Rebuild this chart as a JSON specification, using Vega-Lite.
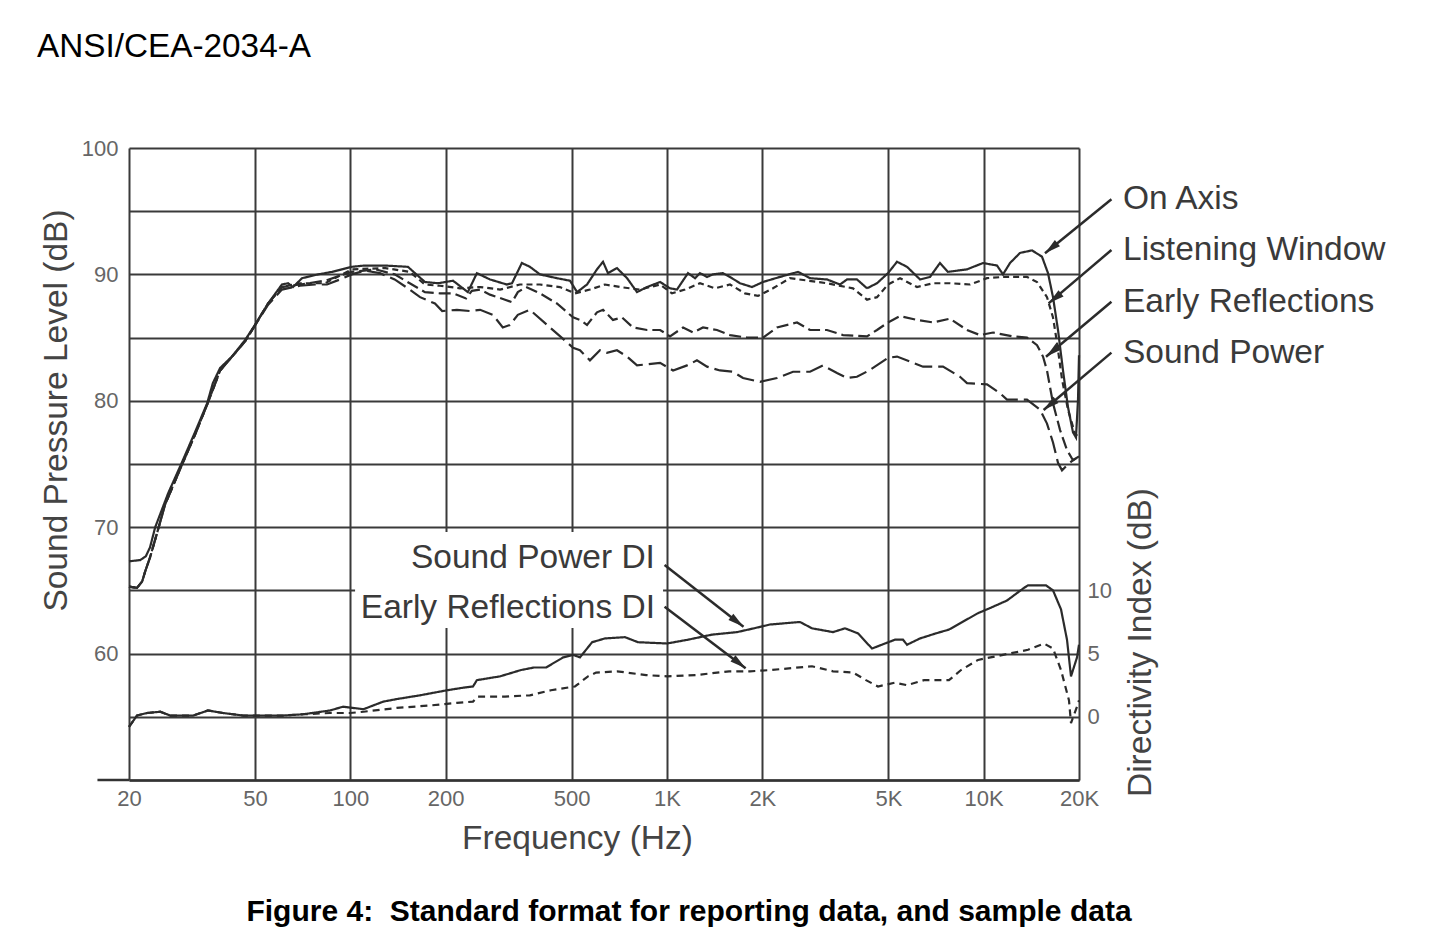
{
  "$schema": "https://vega.github.io/schema/vega-lite/v6.json",
  "width": 950,
  "height": 632,
  "autosize": {"type": "none"},
  "padding": {"left": 129, "top": 148, "right": 375, "bottom": 160},
  "background": "white",
  "config": {"view": {"stroke": null}, "font": "Liberation Sans"},
  "title": {
    "text": "Figure 4:\u00a0 Standard format for reporting data, and sample data",
    "orient": "bottom",
    "anchor": "middle",
    "frame": "group",
    "dx": 85,
    "offset": 42,
    "font": "Liberation Sans",
    "fontSize": 30,
    "fontWeight": "bold",
    "color": "#000000"
  },
  "datasets": {
    "spl": [
      {"series":"On Axis","freq":20,"spl":67.3},{"series":"On Axis","freq":21.7,"spl":67.4},{"series":"On Axis","freq":22.6,"spl":67.7},{"series":"On Axis","freq":23.3,"spl":68.4},{"series":"On Axis","freq":24.2,"spl":70.0},{"series":"On Axis","freq":26.6,"spl":72.7},{"series":"On Axis","freq":29.0,"spl":74.8},{"series":"On Axis","freq":32.3,"spl":77.5},{"series":"On Axis","freq":35.3,"spl":79.8},{"series":"On Axis","freq":36.8,"spl":81.4},{"series":"On Axis","freq":38.8,"spl":82.6},{"series":"On Axis","freq":42.3,"spl":83.5},{"series":"On Axis","freq":46.5,"spl":84.8},{"series":"On Axis","freq":50.0,"spl":86.0},{"series":"On Axis","freq":55.0,"spl":87.7},{"series":"On Axis","freq":60.8,"spl":89.2},{"series":"On Axis","freq":63.6,"spl":89.3},{"series":"On Axis","freq":65.9,"spl":89.0},{"series":"On Axis","freq":70.4,"spl":89.7},{"series":"On Axis","freq":79.1,"spl":90.0},{"series":"On Axis","freq":87.5,"spl":90.2},{"series":"On Axis","freq":101,"spl":90.6},{"series":"On Axis","freq":111,"spl":90.7},{"series":"On Axis","freq":129,"spl":90.7},{"series":"On Axis","freq":152,"spl":90.6},{"series":"On Axis","freq":160,"spl":90.1},{"series":"On Axis","freq":172,"spl":89.4},{"series":"On Axis","freq":189,"spl":89.3},{"series":"On Axis","freq":211,"spl":89.5},{"series":"On Axis","freq":235,"spl":88.6},{"series":"On Axis","freq":251,"spl":90.1},{"series":"On Axis","freq":276,"spl":89.6},{"series":"On Axis","freq":312,"spl":89.2},{"series":"On Axis","freq":324,"spl":89.3},{"series":"On Axis","freq":348,"spl":90.9},{"series":"On Axis","freq":369,"spl":90.6},{"series":"On Axis","freq":397,"spl":90.0},{"series":"On Axis","freq":449,"spl":89.7},{"series":"On Axis","freq":494,"spl":89.5},{"series":"On Axis","freq":520,"spl":88.6},{"series":"On Axis","freq":559,"spl":89.2},{"series":"On Axis","freq":601,"spl":90.4},{"series":"On Axis","freq":628,"spl":91.0},{"series":"On Axis","freq":651,"spl":90.1},{"series":"On Axis","freq":695,"spl":90.5},{"series":"On Axis","freq":748,"spl":89.7},{"series":"On Axis","freq":804,"spl":88.6},{"series":"On Axis","freq":865,"spl":89.0},{"series":"On Axis","freq":951,"spl":89.4},{"series":"On Axis","freq":1022,"spl":88.9},{"series":"On Axis","freq":1075,"spl":88.8},{"series":"On Axis","freq":1165,"spl":90.1},{"series":"On Axis","freq":1226,"spl":89.7},{"series":"On Axis","freq":1271,"spl":90.1},{"series":"On Axis","freq":1338,"spl":89.8},{"series":"On Axis","freq":1397,"spl":90.0},{"series":"On Axis","freq":1502,"spl":90.1},{"series":"On Axis","freq":1604,"spl":89.7},{"series":"On Axis","freq":1700,"spl":89.3},{"series":"On Axis","freq":1855,"spl":89.0},{"series":"On Axis","freq":2010,"spl":89.4},{"series":"On Axis","freq":2274,"spl":89.8},{"series":"On Axis","freq":2592,"spl":90.2},{"series":"On Axis","freq":2829,"spl":89.7},{"series":"On Axis","freq":3200,"spl":89.6},{"series":"On Axis","freq":3518,"spl":89.2},{"series":"On Axis","freq":3702,"spl":89.6},{"series":"On Axis","freq":3980,"spl":89.6},{"series":"On Axis","freq":4282,"spl":88.9},{"series":"On Axis","freq":4604,"spl":89.3},{"series":"On Axis","freq":4988,"spl":90.1},{"series":"On Axis","freq":5326,"spl":91.0},{"series":"On Axis","freq":5727,"spl":90.6},{"series":"On Axis","freq":6296,"spl":89.6},{"series":"On Axis","freq":6768,"spl":89.8},{"series":"On Axis","freq":7278,"spl":90.9},{"series":"On Axis","freq":7714,"spl":90.2},{"series":"On Axis","freq":8858,"spl":90.4},{"series":"On Axis","freq":9954,"spl":90.9},{"series":"On Axis","freq":11020,"spl":90.7},{"series":"On Axis","freq":11508,"spl":90.0},{"series":"On Axis","freq":12110,"spl":90.9},{"series":"On Axis","freq":13024,"spl":91.7},{"series":"On Axis","freq":14212,"spl":91.9},{"series":"On Axis","freq":15282,"spl":91.4},{"series":"On Axis","freq":15964,"spl":90.1},{"series":"On Axis","freq":16556,"spl":88.2},{"series":"On Axis","freq":17168,"spl":85.6},{"series":"On Axis","freq":17804,"spl":82.4},{"series":"On Axis","freq":18462,"spl":79.5},{"series":"On Axis","freq":19146,"spl":77.5},{"series":"On Axis","freq":19568,"spl":77.1},{"series":"On Axis","freq":19856,"spl":80.1},{"series":"On Axis","freq":20000,"spl":83.6},

      {"series":"Listening Window","freq":20,"spl":65.3},{"series":"Listening Window","freq":21.2,"spl":65.2},{"series":"Listening Window","freq":22.0,"spl":65.7},{"series":"Listening Window","freq":22.5,"spl":66.5},{"series":"Listening Window","freq":23.3,"spl":67.6},{"series":"Listening Window","freq":24.5,"spl":69.5},{"series":"Listening Window","freq":26.0,"spl":71.8},{"series":"Listening Window","freq":29.0,"spl":74.6},{"series":"Listening Window","freq":32.3,"spl":77.3},{"series":"Listening Window","freq":35.3,"spl":79.7},{"series":"Listening Window","freq":38.8,"spl":82.4},{"series":"Listening Window","freq":46.5,"spl":84.7},{"series":"Listening Window","freq":55.0,"spl":87.7},{"series":"Listening Window","freq":60.8,"spl":89.0},{"series":"Listening Window","freq":69.3,"spl":89.3},{"series":"Listening Window","freq":83.2,"spl":89.3},{"series":"Listening Window","freq":101,"spl":90.4},{"series":"Listening Window","freq":129,"spl":90.5},{"series":"Listening Window","freq":154,"spl":90.2},{"series":"Listening Window","freq":172,"spl":89.2},{"series":"Listening Window","freq":192,"spl":89.1},{"series":"Listening Window","freq":222,"spl":88.9},{"series":"Listening Window","freq":257,"spl":89.0},{"series":"Listening Window","freq":297,"spl":88.8},{"series":"Listening Window","freq":343,"spl":89.2},{"series":"Listening Window","freq":397,"spl":89.2},{"series":"Listening Window","freq":459,"spl":89.0},{"series":"Listening Window","freq":512,"spl":88.5},{"series":"Listening Window","freq":571,"spl":88.8},{"series":"Listening Window","freq":637,"spl":89.2},{"series":"Listening Window","freq":711,"spl":89.0},{"series":"Listening Window","freq":822,"spl":88.8},{"series":"Listening Window","freq":951,"spl":89.2},{"series":"Listening Window","freq":1037,"spl":88.5},{"series":"Listening Window","freq":1140,"spl":88.8},{"series":"Listening Window","freq":1271,"spl":89.3},{"series":"Listening Window","freq":1418,"spl":88.9},{"series":"Listening Window","freq":1581,"spl":89.2},{"series":"Listening Window","freq":1763,"spl":88.5},{"series":"Listening Window","freq":1938,"spl":88.3},{"series":"Listening Window","freq":2161,"spl":88.9},{"series":"Listening Window","freq":2446,"spl":89.7},{"series":"Listening Window","freq":3200,"spl":89.3},{"series":"Listening Window","freq":3866,"spl":88.9},{"series":"Listening Window","freq":4282,"spl":88.0},{"series":"Listening Window","freq":4604,"spl":88.2},{"series":"Listening Window","freq":4988,"spl":89.2},{"series":"Listening Window","freq":5442,"spl":89.7},{"series":"Listening Window","freq":6160,"spl":89.0},{"series":"Listening Window","freq":6916,"spl":89.3},{"series":"Listening Window","freq":7828,"spl":89.3},{"series":"Listening Window","freq":9054,"spl":89.2},{"series":"Listening Window","freq":10246,"spl":89.7},{"series":"Listening Window","freq":11508,"spl":89.8},{"series":"Listening Window","freq":13702,"spl":89.8},{"series":"Listening Window","freq":14740,"spl":89.4},{"series":"Listening Window","freq":15848,"spl":88.2},{"series":"Listening Window","freq":16556,"spl":86.6},{"series":"Listening Window","freq":17044,"spl":84.6},{"series":"Listening Window","freq":17676,"spl":81.7},{"series":"Listening Window","freq":18462,"spl":79.3},{"series":"Listening Window","freq":19426,"spl":77.4},{"series":"Listening Window","freq":20000,"spl":77.1},

      {"series":"Early Reflections","freq":20,"spl":65.3},{"series":"Early Reflections","freq":21.2,"spl":65.2},{"series":"Early Reflections","freq":22.0,"spl":65.7},{"series":"Early Reflections","freq":22.5,"spl":66.5},{"series":"Early Reflections","freq":23.3,"spl":67.6},{"series":"Early Reflections","freq":24.5,"spl":69.5},{"series":"Early Reflections","freq":26.0,"spl":71.8},{"series":"Early Reflections","freq":29.0,"spl":74.6},{"series":"Early Reflections","freq":32.3,"spl":77.3},{"series":"Early Reflections","freq":35.3,"spl":79.7},{"series":"Early Reflections","freq":38.8,"spl":82.4},{"series":"Early Reflections","freq":46.5,"spl":84.7},{"series":"Early Reflections","freq":55.0,"spl":87.7},{"series":"Early Reflections","freq":60.8,"spl":89.0},{"series":"Early Reflections","freq":69.3,"spl":89.2},{"series":"Early Reflections","freq":83.2,"spl":89.5},{"series":"Early Reflections","freq":101,"spl":90.2},{"series":"Early Reflections","freq":120,"spl":90.4},{"series":"Early Reflections","freq":138,"spl":90.0},{"series":"Early Reflections","freq":154,"spl":89.3},{"series":"Early Reflections","freq":172,"spl":88.6},{"series":"Early Reflections","freq":192,"spl":88.5},{"series":"Early Reflections","freq":211,"spl":88.5},{"series":"Early Reflections","freq":232,"spl":88.1},{"series":"Early Reflections","freq":242,"spl":88.7},{"series":"Early Reflections","freq":257,"spl":88.8},{"series":"Early Reflections","freq":276,"spl":88.4},{"series":"Early Reflections","freq":308,"spl":88.0},{"series":"Early Reflections","freq":324,"spl":87.8},{"series":"Early Reflections","freq":338,"spl":88.6},{"series":"Early Reflections","freq":359,"spl":89.0},{"series":"Early Reflections","freq":397,"spl":88.5},{"series":"Early Reflections","freq":449,"spl":87.7},{"series":"Early Reflections","freq":505,"spl":86.6},{"series":"Early Reflections","freq":531,"spl":86.4},{"series":"Early Reflections","freq":559,"spl":86.0},{"series":"Early Reflections","freq":601,"spl":87.0},{"series":"Early Reflections","freq":628,"spl":87.2},{"series":"Early Reflections","freq":675,"spl":86.4},{"series":"Early Reflections","freq":721,"spl":86.6},{"series":"Early Reflections","freq":781,"spl":85.8},{"series":"Early Reflections","freq":865,"spl":85.6},{"series":"Early Reflections","freq":951,"spl":85.6},{"series":"Early Reflections","freq":1022,"spl":85.1},{"series":"Early Reflections","freq":1124,"spl":85.8},{"series":"Early Reflections","freq":1208,"spl":85.4},{"series":"Early Reflections","freq":1299,"spl":85.8},{"series":"Early Reflections","freq":1438,"spl":85.6},{"series":"Early Reflections","freq":1581,"spl":85.2},{"series":"Early Reflections","freq":1789,"spl":85.0},{"series":"Early Reflections","freq":2010,"spl":85.0},{"series":"Early Reflections","freq":2225,"spl":85.8},{"series":"Early Reflections","freq":2574,"spl":86.2},{"series":"Early Reflections","freq":2829,"spl":85.6},{"series":"Early Reflections","freq":3200,"spl":85.6},{"series":"Early Reflections","freq":3596,"spl":85.2},{"series":"Early Reflections","freq":4282,"spl":85.1},{"series":"Early Reflections","freq":4604,"spl":85.6},{"series":"Early Reflections","freq":4988,"spl":86.2},{"series":"Early Reflections","freq":5442,"spl":86.7},{"series":"Early Reflections","freq":6160,"spl":86.4},{"series":"Early Reflections","freq":6916,"spl":86.2},{"series":"Early Reflections","freq":7828,"spl":86.5},{"series":"Early Reflections","freq":8858,"spl":85.6},{"series":"Early Reflections","freq":9738,"spl":85.2},{"series":"Early Reflections","freq":10706,"spl":85.4},{"series":"Early Reflections","freq":12376,"spl":85.1},{"series":"Early Reflections","freq":13702,"spl":85.0},{"series":"Early Reflections","freq":14740,"spl":84.4},{"series":"Early Reflections","freq":15394,"spl":83.5},{"series":"Early Reflections","freq":15848,"spl":82.4},{"series":"Early Reflections","freq":16556,"spl":79.8},{"series":"Early Reflections","freq":17420,"spl":77.7},{"series":"Early Reflections","freq":18328,"spl":76.1},{"series":"Early Reflections","freq":19146,"spl":75.3},{"series":"Early Reflections","freq":20000,"spl":75.6},

      {"series":"Sound Power","freq":20,"spl":65.3},{"series":"Sound Power","freq":21.2,"spl":65.2},{"series":"Sound Power","freq":22.0,"spl":65.7},{"series":"Sound Power","freq":22.5,"spl":66.5},{"series":"Sound Power","freq":23.3,"spl":67.6},{"series":"Sound Power","freq":24.5,"spl":69.5},{"series":"Sound Power","freq":26.0,"spl":71.8},{"series":"Sound Power","freq":29.0,"spl":74.6},{"series":"Sound Power","freq":32.3,"spl":77.3},{"series":"Sound Power","freq":35.3,"spl":79.7},{"series":"Sound Power","freq":38.8,"spl":82.4},{"series":"Sound Power","freq":46.5,"spl":84.7},{"series":"Sound Power","freq":55.0,"spl":87.6},{"series":"Sound Power","freq":60.8,"spl":88.8},{"series":"Sound Power","freq":69.3,"spl":89.1},{"series":"Sound Power","freq":77.4,"spl":89.2},{"series":"Sound Power","freq":84.4,"spl":89.2},{"series":"Sound Power","freq":92.8,"spl":89.6},{"series":"Sound Power","freq":101,"spl":90.0},{"series":"Sound Power","freq":111,"spl":90.3},{"series":"Sound Power","freq":124,"spl":90.1},{"series":"Sound Power","freq":138,"spl":89.6},{"series":"Sound Power","freq":152,"spl":88.9},{"series":"Sound Power","freq":166,"spl":88.2},{"series":"Sound Power","freq":185,"spl":87.7},{"series":"Sound Power","freq":195,"spl":87.1},{"series":"Sound Power","freq":217,"spl":87.2},{"series":"Sound Power","freq":239,"spl":87.1},{"series":"Sound Power","freq":257,"spl":87.2},{"series":"Sound Power","freq":282,"spl":86.8},{"series":"Sound Power","freq":303,"spl":85.8},{"series":"Sound Power","freq":319,"spl":86.0},{"series":"Sound Power","freq":338,"spl":86.8},{"series":"Sound Power","freq":369,"spl":87.2},{"series":"Sound Power","freq":505,"spl":84.2},{"series":"Sound Power","freq":531,"spl":84.0},{"series":"Sound Power","freq":571,"spl":83.2},{"series":"Sound Power","freq":614,"spl":84.0},{"series":"Sound Power","freq":646,"spl":83.8},{"series":"Sound Power","freq":695,"spl":84.0},{"series":"Sound Power","freq":748,"spl":83.5},{"series":"Sound Power","freq":804,"spl":82.8},{"series":"Sound Power","freq":951,"spl":83.0},{"series":"Sound Power","freq":1045,"spl":82.4},{"series":"Sound Power","freq":1157,"spl":82.8},{"series":"Sound Power","freq":1243,"spl":83.2},{"series":"Sound Power","freq":1338,"spl":82.7},{"series":"Sound Power","freq":1470,"spl":82.4},{"series":"Sound Power","freq":1616,"spl":82.3},{"series":"Sound Power","freq":1738,"spl":81.8},{"series":"Sound Power","freq":1966,"spl":81.5},{"series":"Sound Power","freq":2225,"spl":81.8},{"series":"Sound Power","freq":2500,"spl":82.3},{"series":"Sound Power","freq":2829,"spl":82.3},{"series":"Sound Power","freq":3108,"spl":82.8},{"series":"Sound Power","freq":3442,"spl":82.2},{"series":"Sound Power","freq":3702,"spl":81.8},{"series":"Sound Power","freq":3980,"spl":81.9},{"series":"Sound Power","freq":4344,"spl":82.4},{"series":"Sound Power","freq":4988,"spl":83.4},{"series":"Sound Power","freq":5326,"spl":83.5},{"series":"Sound Power","freq":5852,"spl":83.1},{"series":"Sound Power","freq":6434,"spl":82.7},{"series":"Sound Power","freq":7440,"spl":82.7},{"series":"Sound Power","freq":8420,"spl":81.9},{"series":"Sound Power","freq":8858,"spl":81.4},{"series":"Sound Power","freq":10246,"spl":81.3},{"series":"Sound Power","freq":11264,"spl":80.6},{"series":"Sound Power","freq":11848,"spl":80.1},{"series":"Sound Power","freq":13702,"spl":80.1},{"series":"Sound Power","freq":15062,"spl":79.3},{"series":"Sound Power","freq":15848,"spl":78.2},{"series":"Sound Power","freq":16556,"spl":76.7},{"series":"Sound Power","freq":17168,"spl":75.1},{"series":"Sound Power","freq":17676,"spl":74.5},{"series":"Sound Power","freq":18328,"spl":74.9},{"series":"Sound Power","freq":19146,"spl":75.3},{"series":"Sound Power","freq":20000,"spl":75.6}
    ],
    "di": [
      {"series":"Sound Power DI","freq":20,"di":-0.8},{"series":"Sound Power DI","freq":21.2,"di":0.1},{"series":"Sound Power DI","freq":22.8,"di":0.3},{"series":"Sound Power DI","freq":25.1,"di":0.4},{"series":"Sound Power DI","freq":27.0,"di":0.1},{"series":"Sound Power DI","freq":31.9,"di":0.1},{"series":"Sound Power DI","freq":35.5,"di":0.5},{"series":"Sound Power DI","freq":39.6,"di":0.3},{"series":"Sound Power DI","freq":45.8,"di":0.1},{"series":"Sound Power DI","freq":53.0,"di":0.1},{"series":"Sound Power DI","freq":61.3,"di":0.1},{"series":"Sound Power DI","freq":70.9,"di":0.2},{"series":"Sound Power DI","freq":86.3,"di":0.5},{"series":"Sound Power DI","freq":94.8,"di":0.8},{"series":"Sound Power DI","freq":110,"di":0.6},{"series":"Sound Power DI","freq":127,"di":1.2},{"series":"Sound Power DI","freq":140,"di":1.4},{"series":"Sound Power DI","freq":166,"di":1.7},{"series":"Sound Power DI","freq":202,"di":2.1},{"series":"Sound Power DI","freq":227,"di":2.3},{"series":"Sound Power DI","freq":244,"di":2.4},{"series":"Sound Power DI","freq":251,"di":2.9},{"series":"Sound Power DI","freq":297,"di":3.2},{"series":"Sound Power DI","freq":346,"di":3.7},{"series":"Sound Power DI","freq":380,"di":3.9},{"series":"Sound Power DI","freq":415,"di":3.9},{"series":"Sound Power DI","freq":470,"di":4.7},{"series":"Sound Power DI","freq":505,"di":4.9},{"series":"Sound Power DI","freq":531,"di":4.7},{"series":"Sound Power DI","freq":580,"di":5.9},{"series":"Sound Power DI","freq":637,"di":6.2},{"series":"Sound Power DI","freq":737,"di":6.3},{"series":"Sound Power DI","freq":810,"di":5.9},{"series":"Sound Power DI","freq":1000,"di":5.8},{"series":"Sound Power DI","freq":1165,"di":6.1},{"series":"Sound Power DI","freq":1387,"di":6.5},{"series":"Sound Power DI","freq":1664,"di":6.7},{"series":"Sound Power DI","freq":1882,"di":7.0},{"series":"Sound Power DI","freq":2114,"di":7.3},{"series":"Sound Power DI","freq":2630,"di":7.5},{"series":"Sound Power DI","freq":2870,"di":7.0},{"series":"Sound Power DI","freq":3344,"di":6.7},{"series":"Sound Power DI","freq":3648,"di":7.0},{"series":"Sound Power DI","freq":4010,"di":6.6},{"series":"Sound Power DI","freq":4440,"di":5.4},{"series":"Sound Power DI","freq":4880,"di":5.8},{"series":"Sound Power DI","freq":5248,"di":6.1},{"series":"Sound Power DI","freq":5562,"di":6.1},{"series":"Sound Power DI","freq":5727,"di":5.7},{"series":"Sound Power DI","freq":6296,"di":6.2},{"series":"Sound Power DI","freq":7068,"di":6.6},{"series":"Sound Power DI","freq":7770,"di":6.9},{"series":"Sound Power DI","freq":9598,"di":8.2},{"series":"Sound Power DI","freq":10472,"di":8.6},{"series":"Sound Power DI","freq":11848,"di":9.2},{"series":"Sound Power DI","freq":13408,"di":10.2},{"series":"Sound Power DI","freq":13804,"di":10.4},{"series":"Sound Power DI","freq":15732,"di":10.4},{"series":"Sound Power DI","freq":16556,"di":10.0},{"series":"Sound Power DI","freq":17548,"di":8.5},{"series":"Sound Power DI","freq":18328,"di":6.1},{"series":"Sound Power DI","freq":18870,"di":3.2},{"series":"Sound Power DI","freq":19712,"di":4.7},{"series":"Sound Power DI","freq":20000,"di":5.7},

      {"series":"Early Reflections DI","freq":20,"di":-0.8},{"series":"Early Reflections DI","freq":21.2,"di":0.1},{"series":"Early Reflections DI","freq":22.8,"di":0.3},{"series":"Early Reflections DI","freq":25.1,"di":0.4},{"series":"Early Reflections DI","freq":27.0,"di":0.1},{"series":"Early Reflections DI","freq":31.9,"di":0.1},{"series":"Early Reflections DI","freq":35.5,"di":0.5},{"series":"Early Reflections DI","freq":39.6,"di":0.3},{"series":"Early Reflections DI","freq":45.8,"di":0.1},{"series":"Early Reflections DI","freq":53.0,"di":0.1},{"series":"Early Reflections DI","freq":61.3,"di":0.1},{"series":"Early Reflections DI","freq":70.9,"di":0.2},{"series":"Early Reflections DI","freq":86.3,"di":0.3},{"series":"Early Reflections DI","freq":99.8,"di":0.3},{"series":"Early Reflections DI","freq":110,"di":0.4},{"series":"Early Reflections DI","freq":140,"di":0.7},{"series":"Early Reflections DI","freq":179,"di":0.9},{"series":"Early Reflections DI","freq":217,"di":1.1},{"series":"Early Reflections DI","freq":244,"di":1.2},{"series":"Early Reflections DI","freq":253,"di":1.6},{"series":"Early Reflections DI","freq":308,"di":1.6},{"series":"Early Reflections DI","freq":369,"di":1.7},{"series":"Early Reflections DI","freq":430,"di":2.1},{"series":"Early Reflections DI","freq":512,"di":2.4},{"series":"Early Reflections DI","freq":563,"di":3.2},{"series":"Early Reflections DI","freq":597,"di":3.5},{"series":"Early Reflections DI","freq":695,"di":3.6},{"series":"Early Reflections DI","freq":859,"di":3.3},{"series":"Early Reflections DI","freq":1000,"di":3.2},{"series":"Early Reflections DI","freq":1234,"di":3.3},{"series":"Early Reflections DI","freq":1570,"di":3.6},{"series":"Early Reflections DI","freq":1829,"di":3.6},{"series":"Early Reflections DI","freq":2130,"di":3.7},{"series":"Early Reflections DI","freq":2870,"di":4.0},{"series":"Early Reflections DI","freq":3344,"di":3.6},{"series":"Early Reflections DI","freq":3866,"di":3.5},{"series":"Early Reflections DI","freq":4250,"di":2.9},{"series":"Early Reflections DI","freq":4638,"di":2.4},{"series":"Early Reflections DI","freq":5248,"di":2.7},{"series":"Early Reflections DI","freq":5727,"di":2.5},{"series":"Early Reflections DI","freq":6480,"di":2.9},{"series":"Early Reflections DI","freq":7770,"di":2.9},{"series":"Early Reflections DI","freq":8482,"di":3.7},{"series":"Early Reflections DI","freq":9598,"di":4.5},{"series":"Early Reflections DI","freq":11508,"di":4.9},{"series":"Early Reflections DI","freq":13804,"di":5.3},{"series":"Early Reflections DI","freq":15506,"di":5.8},{"series":"Early Reflections DI","freq":16556,"di":5.4},{"series":"Early Reflections DI","freq":17548,"di":3.7},{"series":"Early Reflections DI","freq":18596,"di":1.3},{"series":"Early Reflections DI","freq":18870,"di":-0.5},{"series":"Early Reflections DI","freq":19712,"di":0.8},{"series":"Early Reflections DI","freq":20000,"di":1.3}
    ],
    "legendArrows": [
      {"series":"On Axis","freq":25320,"spl":95.94,"freq2":15618,"spl2":91.67},
      {"series":"Listening Window","freq":25320,"spl":91.93,"freq2":16034,"spl2":87.71},
      {"series":"Early Reflections","freq":25320,"spl":87.84,"freq2":15732,"spl2":83.49},
      {"series":"Sound Power","freq":25320,"spl":83.81,"freq2":15462,"spl2":79.27}
    ],
    "diArrows": [
      {"series":"Sound Power DI","freq":982.6,"spl":67.01,"freq2":1744,"spl2":62.13},
      {"series":"Early Reflections DI","freq":982.6,"spl":63.71,"freq2":1771,"spl2":58.84}
    ],
    "legendLabels": [
      {"label":"On Axis","freq":27540,"spl":95.94},
      {"label":"Listening Window","freq":27540,"spl":91.93},
      {"label":"Early Reflections","freq":27540,"spl":87.84},
      {"label":"Sound Power","freq":27540,"spl":83.81}
    ],
    "diLabels": [
      {"label":"Sound Power DI","freq":916,"spl":67.54},
      {"label":"Early Reflections DI","freq":916,"spl":63.58}
    ],
    "header": [
      {"label":"ANSI/CEA-2034-A","freq":10.25,"spl":107.18}
    ]
  },
  "layer": [
    {
      "layer": [
        {
          "data": {"values": [{}]},
          "mark": {"type": "rect", "fill": "white", "strokeWidth": 0},
          "encoding": {
            "x": {"datum": 103.5, "type": "quantitative"},
            "x2": {"datum": 971.6},
            "y": {"datum": 69.62, "type": "quantitative"},
            "y2": {"datum": 62.03}
          }
        },
        {
          "data": {"values": [{}]},
          "mark": {"type": "rule", "color": "#333333", "strokeWidth": 2.5},
          "encoding": {
            "x": {"datum": 15.9, "type": "quantitative"},
            "x2": {"datum": 20},
            "y": {"datum": 50, "type": "quantitative"}
          }
        },
        {
          "data": {"name": "spl"},
          "mark": {"type": "line", "color": "#2b2b2b", "strokeWidth": 2.2},
          "encoding": {
            "x": {
              "field": "freq", "type": "quantitative",
              "scale": {"type": "log", "domain": [20, 20000], "nice": false},
              "axis": {
                "values": [20, 50, 100, 200, 500, 1000, 2000, 5000, 10000, 20000],
                "labelExpr": "datum.value >= 1000 ? format(datum.value / 1000, 'd') + 'K' : format(datum.value, 'd')",
                "grid": true, "gridColor": "#3a3a3a", "gridWidth": 2, "gridOpacity": 1,
                "domain": true, "domainColor": "#333333", "domainWidth": 2.5,
                "ticks": false, "tickSize": 0,
                "labelFont": "Liberation Sans", "labelFontSize": 22, "labelColor": "#666666",
                "labelPadding": 8, "labelFlush": false, "labelOverlap": false,
                "title": "Frequency (Hz)", "titleFont": "Liberation Sans", "titleFontSize": 33.5,
                "titleFontWeight": "normal", "titleColor": "#444444",
                "titleX": 448, "titleY": 68, "titleAlign": "center", "titleBaseline": "alphabetic",
                "zindex": 0
              }
            },
            "y": {
              "field": "spl", "type": "quantitative",
              "scale": {"domain": [50, 100], "nice": false, "zero": false},
              "axis": {
                "values": [50, 55, 60, 65, 70, 75, 80, 85, 90, 95, 100],
                "labelExpr": "datum.value % 10 == 0 && datum.value > 50 ? format(datum.value, 'd') : ''",
                "grid": true, "gridColor": "#3a3a3a", "gridWidth": 2, "gridOpacity": 1,
                "domain": false, "ticks": false, "tickSize": 0,
                "labelFont": "Liberation Sans", "labelFontSize": 22, "labelColor": "#666666",
                "labelPadding": 11, "labelOverlap": false,
                "title": "Sound Pressure Level (dB)", "titleFont": "Liberation Sans", "titleFontSize": 33.5,
                "titleFontWeight": "normal", "titleColor": "#444444",
                "titleX": -63, "titleY": 262, "titleAngle": 270, "titleAlign": "center", "titleBaseline": "alphabetic",
                "zindex": 0
              }
            },
            "strokeDash": {
              "field": "series", "type": "nominal", "legend": null,
              "scale": {
                "domain": ["On Axis", "Listening Window", "Early Reflections", "Sound Power", "Sound Power DI", "Early Reflections DI"],
                "range": [[1, 0], [6, 4], [12, 5], [18, 6], [1, 0], [7, 5]]
              }
            }
          }
        },
        {
          "data": {"name": "legendArrows"},
          "mark": {"type": "rule", "color": "#2b2b2b", "strokeWidth": 2.5},
          "encoding": {
            "x": {"field": "freq", "type": "quantitative"},
            "x2": {"field": "freq2"},
            "y": {"field": "spl", "type": "quantitative"},
            "y2": {"field": "spl2"}
          }
        },
        {
          "data": {"name": "legendArrows"},
          "mark": {"type": "point", "shape": "M0,0L-0.4,1.6L0.4,1.6Z", "filled": true, "size": 400, "angle": 231, "color": "#2b2b2b", "opacity": 1, "strokeWidth": 0},
          "encoding": {
            "x": {"field": "freq2", "type": "quantitative"},
            "y": {"field": "spl2", "type": "quantitative"}
          }
        },
        {
          "data": {"name": "diArrows"},
          "mark": {"type": "rule", "color": "#2b2b2b", "strokeWidth": 2.5},
          "encoding": {
            "x": {"field": "freq", "type": "quantitative"},
            "x2": {"field": "freq2"},
            "y": {"field": "spl", "type": "quantitative"},
            "y2": {"field": "spl2"}
          }
        },
        {
          "data": {"name": "diArrows"},
          "mark": {"type": "point", "shape": "M0,0L-0.4,1.6L0.4,1.6Z", "filled": true, "size": 400, "angle": 128, "color": "#2b2b2b", "opacity": 1, "strokeWidth": 0},
          "encoding": {
            "x": {"field": "freq2", "type": "quantitative"},
            "y": {"field": "spl2", "type": "quantitative"}
          }
        },
        {
          "data": {"name": "legendLabels"},
          "mark": {"type": "text", "align": "left", "baseline": "middle", "font": "Liberation Sans", "fontSize": 33.5, "color": "#3a3a3a"},
          "encoding": {
            "x": {"field": "freq", "type": "quantitative"},
            "y": {"field": "spl", "type": "quantitative"},
            "text": {"field": "label"}
          }
        },
        {
          "data": {"name": "diLabels"},
          "mark": {"type": "text", "align": "right", "baseline": "middle", "font": "Liberation Sans", "fontSize": 33.5, "color": "#3a3a3a"},
          "encoding": {
            "x": {"field": "freq", "type": "quantitative"},
            "y": {"field": "spl", "type": "quantitative"},
            "text": {"field": "label"}
          }
        },
        {
          "data": {"name": "header"},
          "mark": {"type": "text", "align": "left", "baseline": "alphabetic", "font": "Liberation Sans", "fontSize": 33.3, "color": "#000000"},
          "encoding": {
            "x": {"field": "freq", "type": "quantitative"},
            "y": {"field": "spl", "type": "quantitative"},
            "text": {"field": "label"}
          }
        }
      ]
    },
    {
      "layer": [
        {
          "data": {"name": "di"},
          "mark": {"type": "line", "color": "#2b2b2b", "strokeWidth": 2.2},
          "encoding": {
            "x": {
              "field": "freq", "type": "quantitative",
              "scale": {"type": "log", "domain": [20, 20000], "nice": false}
            },
            "y": {
              "field": "di", "type": "quantitative",
              "scale": {"domain": [-5, 45], "nice": false, "zero": false},
              "axis": {
                "orient": "right",
                "values": [0, 5, 10],
                "labelExpr": "format(datum.value, 'd')",
                "grid": false, "domain": false, "ticks": false, "tickSize": 0,
                "labelFont": "Liberation Sans", "labelFontSize": 22, "labelColor": "#666666",
                "labelPadding": 8, "labelOverlap": false,
                "title": "Directivity Index (dB)", "titleFont": "Liberation Sans", "titleFontSize": 33.5,
                "titleFontWeight": "normal", "titleColor": "#444444",
                "titleX": 71, "titleY": 494, "titleAngle": 270, "titleAlign": "center", "titleBaseline": "alphabetic",
                "zindex": 0
              }
            },
            "strokeDash": {
              "field": "series", "type": "nominal", "legend": null,
              "scale": {
                "domain": ["On Axis", "Listening Window", "Early Reflections", "Sound Power", "Sound Power DI", "Early Reflections DI"],
                "range": [[1, 0], [6, 4], [12, 5], [18, 6], [1, 0], [7, 5]]
              }
            }
          }
        }
      ]
    }
  ],
  "resolve": {"scale": {"y": "independent"}}
}
